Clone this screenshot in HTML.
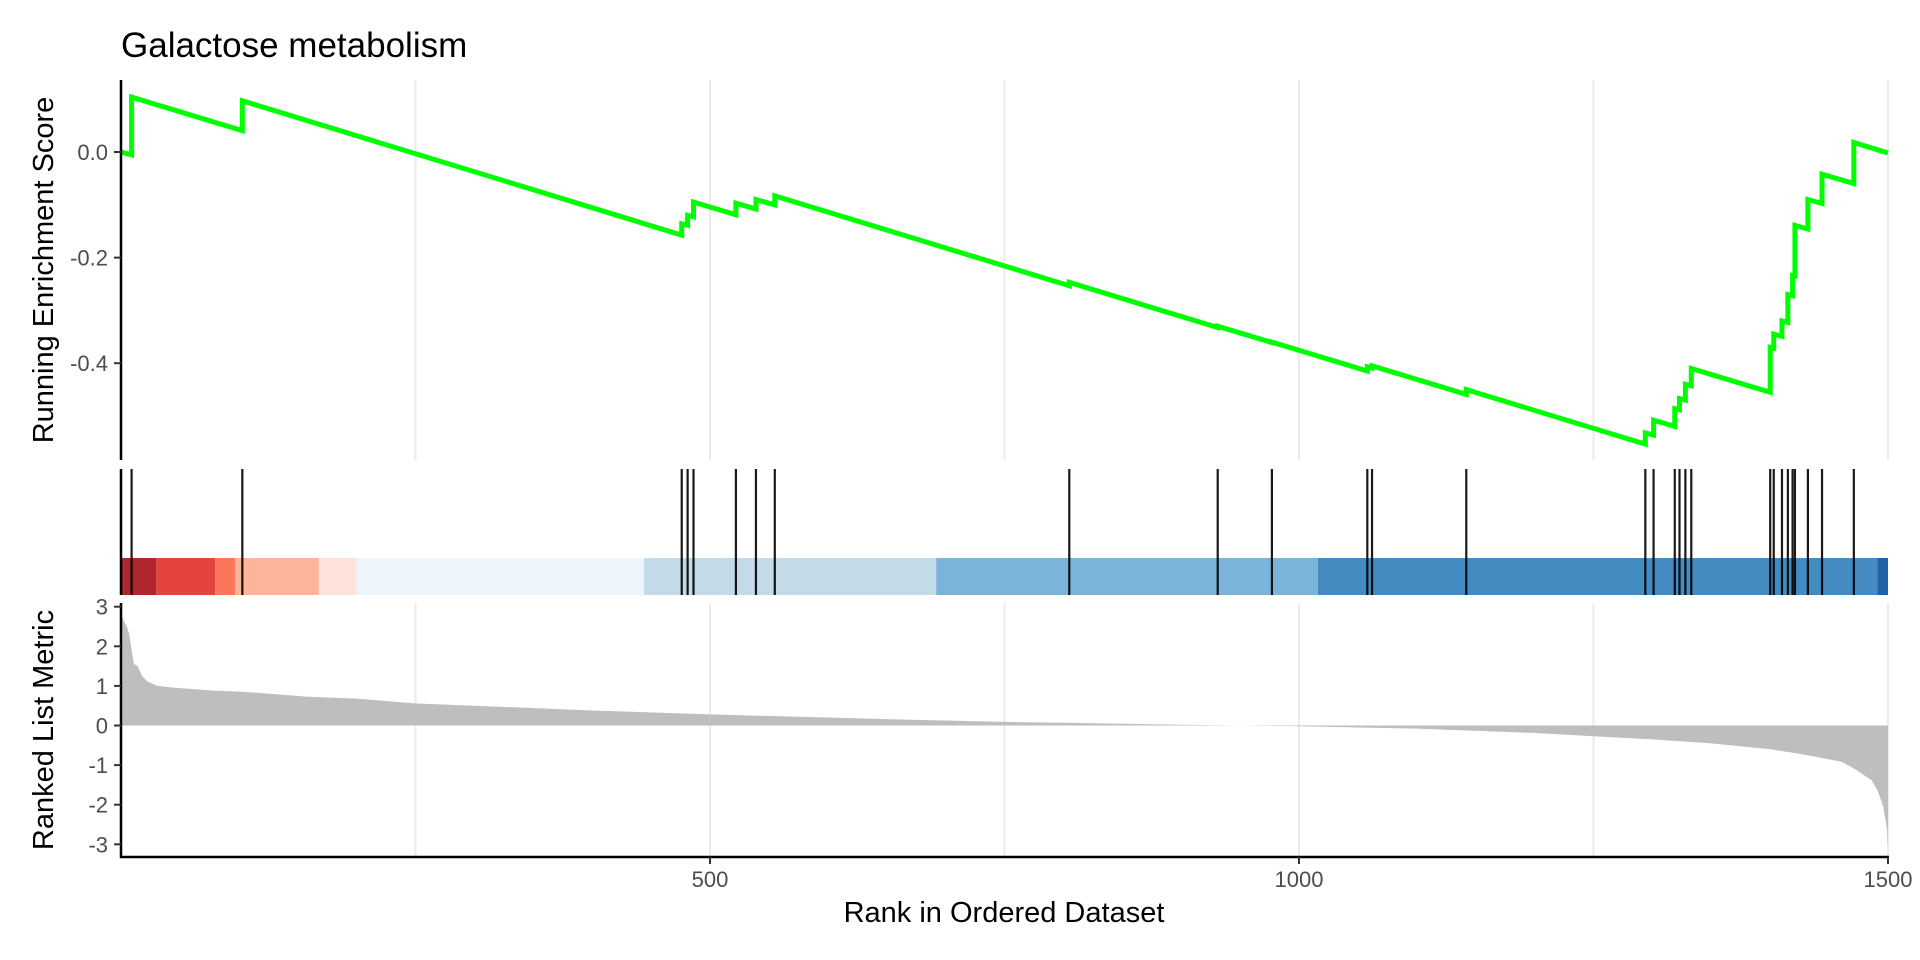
<!DOCTYPE html>
<html><head><meta charset="utf-8"><style>
html,body{margin:0;padding:0;background:#fff;}
svg{display:block;font-family:"Liberation Sans",Arial,sans-serif;}
</style></head><body>
<svg id="chart" width="1920" height="960" viewBox="0 0 1920 960"></svg>
<script>
// ---- data ----
const hitRanks = [9,103,476,481,486,522,539,555,805,931,977,1058,1062,1142,1294,1301,1319,1323,1328,1333,1400,1403,1410,1415,1419,1421,1432,1444,1471];
const esAfter  = [0.104,0.097,-0.136,-0.12,-0.095,-0.097,-0.09,-0.083,-0.247,-0.33,-0.36,-0.407,-0.405,-0.45,-0.532,-0.508,-0.486,-0.467,-0.44,-0.41,-0.37,-0.345,-0.32,-0.27,-0.234,-0.139,-0.09,-0.042,0.018];
const missStep = 0.000684;
const metricRanks  = [0,1,3,5,7,9,11,14,18,22,31,47,79,105,157,200,249,300,400,500,576,650,750,800,900,1000,1100,1200,1250,1300,1350,1400,1422,1440,1461,1473,1486,1491,1496,1499,1500];
const metricValues = [2.8,2.75,2.6,2.5,2.3,1.9,1.55,1.5,1.25,1.12,1.0,0.95,0.88,0.85,0.73,0.68,0.56,0.5,0.38,0.28,0.22,0.16,0.09,0.07,0.02,-0.02,-0.08,-0.19,-0.27,-0.35,-0.45,-0.6,-0.7,-0.8,-0.92,-1.12,-1.38,-1.63,-2.05,-2.6,-3.07];
const esTicks = [0.0,-0.2,-0.4];
const esTickLabels = ["0.0","-0.2","-0.4"];
const metricTicks = [3,2,1,0,-1,-2,-3];
const xTicks = [500,1000,1500];
const gridRanks = [250,500,750,1000,1250,1500];
const bandStarts = [0,2,30,80,97,168,200,444,692,1016,1491];
const bandEnds   = [2,30,80,97,168,200,444,692,1016,1491,1500];
const bandColors = ["#8B1A1F","#B0262E","#E4443E","#FB7759","#FDB59A","#FDE3DA","#EEF4FC","#C3DBE8","#7AB4D9","#438BC1","#2261A4"];

// ---- scales ----
const NS="http://www.w3.org/2000/svg";
const svg=document.getElementById('chart');
const X=r=>121+r*(1767/1500);
const YES=v=>152-v*528;
const YM=v=>725.5-v*39.6;
function mk(tag,attrs,parent){const e=document.createElementNS(NS,tag);for(const k in attrs)e.setAttribute(k,attrs[k]);(parent||svg).appendChild(e);return e;}

// title
let t=mk('text',{x:121,y:57,'font-size':35,fill:'#000'});t.textContent='Galactose metabolism';



// gridlines top & bottom
gridRanks.forEach(r=>{
  let g1=mk('line',{x1:X(r),x2:X(r),y1:80,y2:460,stroke:'#EBEBEB','stroke-width':2});
  
  
  let g2=mk('line',{x1:X(r),x2:X(r),y1:603,y2:857,stroke:'#EBEBEB','stroke-width':2});
  
  
});

// ES curve
let pts=[[X(0),YES(0)]];let prevR=0,prevV=0;
hitRanks.forEach((r,i)=>{const before=prevV-(r-prevR-1)*missStep;pts.push([X(r),YES(before)]);pts.push([X(r),YES(esAfter[i])]);prevR=r;prevV=esAfter[i];});
pts.push([X(1500),YES(prevV-(1500-prevR)*missStep)]);
let es=mk('polyline',{points:pts.map(p=>p.join(',')).join(' '),fill:'none',stroke:'#00FF00','stroke-width':5,'stroke-linejoin':'miter'});



// top axis
let ax1=mk('line',{x1:121,x2:121,y1:80,y2:460,stroke:'#000','stroke-width':2.5});


esTicks.forEach((v,i)=>{
  mk('line',{x1:114,x2:121,y1:YES(v),y2:YES(v),stroke:'#333','stroke-width':2});
  let l=mk('text',{x:108,y:YES(v)+8,'font-size':22,fill:'#4D4D4D','text-anchor':'end'});l.textContent=esTickLabels[i];
  
  
});
let yt1=mk('text',{x:0,y:0,'font-size':29,fill:'#000','text-anchor':'middle',transform:'translate(53,270) rotate(-90)'});yt1.textContent='Running Enrichment Score';



// color band
bandStarts.forEach((s,i)=>{
  let b=mk('rect',{x:X(s),y:558,width:X(bandEnds[i])-X(s),height:37,fill:bandColors[i]});
  
  
});
// hit lines
hitRanks.forEach(r=>{
  let h=mk('line',{x1:X(r),x2:X(r),y1:469,y2:595,stroke:'#000','stroke-width':2.2,'stroke-opacity':0.9});
  
  
});
let ax2=mk('line',{x1:121,x2:121,y1:469,y2:595,stroke:'#000','stroke-width':2.5});



// metric area
let d='M'+X(0)+','+YM(0);
metricRanks.forEach((r,i)=>{d+=' L'+X(r)+','+YM(metricValues[i]);});
d+=' L'+X(1500)+','+YM(0)+' Z';
let area=mk('path',{d:d,fill:'#BEBEBE'});



// bottom axes
let ax3=mk('line',{x1:121,x2:121,y1:603,y2:858,stroke:'#000','stroke-width':2.5});


let ax4=mk('line',{x1:120,x2:1889,y1:857,y2:857,stroke:'#000','stroke-width':2.5});


metricTicks.forEach(v=>{
  mk('line',{x1:114,x2:121,y1:YM(v),y2:YM(v),stroke:'#333','stroke-width':2});
  let l=mk('text',{x:108,y:YM(v)+8,'font-size':22,fill:'#4D4D4D','text-anchor':'end'});l.textContent=String(v);
  
  
});
xTicks.forEach(v=>{
  mk('line',{x1:X(v),x2:X(v),y1:857,y2:864,stroke:'#333','stroke-width':2});
  let l=mk('text',{x:X(v),y:887,'font-size':22,fill:'#4D4D4D','text-anchor':'middle'});l.textContent=String(v);
  
  
});
let yt2=mk('text',{x:0,y:0,'font-size':29,fill:'#000','text-anchor':'middle',transform:'translate(53,730) rotate(-90)'});yt2.textContent='Ranked List Metric';


let xt=mk('text',{x:1004,y:922,'font-size':29,fill:'#000','text-anchor':'middle'});xt.textContent='Rank in Ordered Dataset';


</script>
</body></html>
